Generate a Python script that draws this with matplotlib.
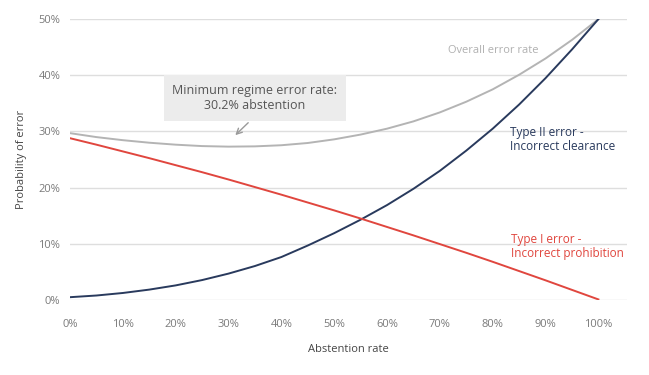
import numpy as np
import matplotlib
matplotlib.use("Agg")
import matplotlib.pyplot as plt

# abstention rate (%) and error probabilities (%)
abstention = [0, 5, 10, 15, 20, 25, 30, 35, 40, 45, 50,
              55, 60, 65, 70, 75, 80, 85, 90, 95, 100]
type1_error = [28.8, 27.65, 26.45, 25.25, 24.0, 22.75, 21.45, 20.1, 18.75, 17.35, 15.95,
               14.5, 13.0, 11.5, 9.95, 8.4, 6.8, 5.15, 3.5, 1.8, 0.1]
type2_error = [0.5, 0.8, 1.25, 1.85, 2.6, 3.55, 4.7, 6.05, 7.65, 9.7, 11.9,
               14.3, 16.9, 19.8, 23.0, 26.6, 30.5, 34.8, 39.5, 44.6, 50.0]
overall_error = [29.7, 29.0, 28.45, 28.0, 27.65, 27.4, 27.3, 27.35, 27.55, 27.95, 28.6,
                 29.45, 30.5, 31.8, 33.4, 35.3, 37.5, 40.1, 43.0, 46.3, 50.0]

xticks = list(range(0, 101, 10))
yticks = list(range(0, 51, 10))

navy = "#293a5d"
red = "#e0463e"
grey = "#b4b4b4"

plt.rcParams['font.family'] = ['Open Sans', 'DejaVu Sans']

fig = plt.figure(figsize=(6.49, 3.75), dpi=100)
ax = fig.add_axes([0.1079, 0.2, 0.966 - 0.1079, 0.749])

ax.plot(abstention, overall_error, color=grey, lw=1.4)
ax.plot(abstention, type2_error, color=navy, lw=1.4)
ax.plot(abstention, type1_error, color=red, lw=1.4)

ax.set_xlim(0, 105.4)
ax.set_ylim(0, 50)
ax.set_xticks(xticks)
ax.set_xticklabels([f"{t}%" for t in xticks])
ax.set_yticks(yticks)
ax.set_yticklabels([f"{t}%" for t in yticks])
ax.tick_params(length=0, labelsize=8, labelcolor="#7a7a7a")
ax.tick_params(axis="x", pad=14)
ax.tick_params(axis="y", pad=7)
ax.grid(axis="y", color="#dedede", lw=1)
ax.set_axisbelow(True)
for s in ax.spines.values():
    s.set_visible(False)

ax.set_xlabel("Abstention rate", fontsize=8, color="#454545", labelpad=10)
ax.set_ylabel("Probability of error", fontsize=8, color="#454545", labelpad=8)

# curve labels
ax.text(80.1, 44.4, "Overall error rate", fontsize=8, color="#b0b0b0", ha="center", va="center")
ax.text(83.3, 28.6, "Type II error -\nIncorrect clearance", fontsize=8.5,
        color=navy, ha="left", va="center", linespacing=1.15)
ax.text(83.5, 9.55, "Type I error -\nIncorrect prohibition", fontsize=8.5,
        color=red, ha="left", va="center", linespacing=1.15)

# minimum annotation
ax.annotate("", xy=(30.9, 29.0), xytext=(34.1, 31.9),
            arrowprops=dict(arrowstyle="->", color="#9a9a9a", lw=1))
ax.text(35, 36.0, "Minimum regime error rate:\n30.2% abstention", fontsize=9,
        color="#555555", ha="center", va="center", linespacing=1.2,
        bbox=dict(boxstyle="square,pad=0.7", fc="#ececec", ec="none"))

fig.savefig("out.png", dpi=100)
